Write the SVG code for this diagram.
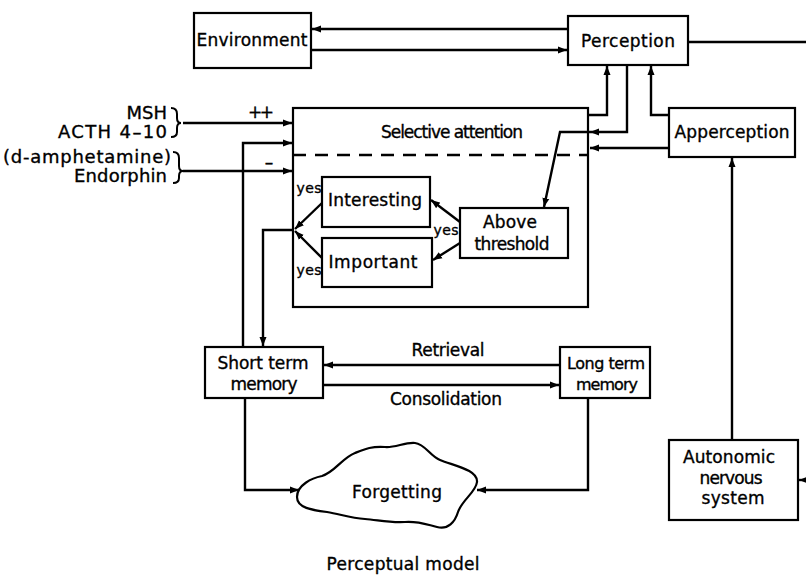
<svg xmlns="http://www.w3.org/2000/svg" width="806" height="586" viewBox="0 0 806 586">
<style>
.box{fill:#fff;stroke:#000;stroke-width:2.2}
.ln{fill:none;stroke:#000;stroke-width:2.4;stroke-linejoin:miter}
.ar{marker-end:url(#ah)}
text{font-family:"DejaVu Sans","Liberation Sans",sans-serif;font-size:17px;fill:#000;stroke:#000;stroke-width:0.35;text-anchor:middle}
.sm{font-size:14px}
.in{font-size:18px;text-anchor:end}
.s16{font-size:16px}
</style>
<defs>
<marker id="ah" markerUnits="userSpaceOnUse" markerWidth="10" markerHeight="8" refX="9" refY="4" orient="auto">
<path d="M0,0.5 L9,4 L0,7.5 z" fill="#000"/>
</marker>
</defs>
<rect width="806" height="586" fill="#fff"/>

<g id="connectors">
<path class="ln ar" d="M568,29 H312"/>
<path class="ln ar" d="M312,50 H567"/>
<path class="ln" d="M688,42 H806"/>
<path class="ln ar" d="M806,480 H799"/>
<path class="ln ar" d="M588,115 H607 V66"/>
<path class="ln ar" d="M627,65 V132 H590"/>
<path class="ln ar" d="M590,132 H560 L544,207"/>
<path class="ln ar" d="M669,115 H651 V66"/>
<path class="ln ar" d="M669,148 H590"/>
<path class="ln ar" d="M732,440 V158"/>
<path class="ln ar" d="M183,123 H292"/>
<path class="ln ar" d="M183,171 H292"/>
<path class="ln ar" d="M243,347 V143 H292"/>
<path class="ln ar" d="M294,230 H263 V346"/>
<path class="ln ar" d="M322,203 L295,229"/>
<path class="ln ar" d="M322,258 L295,231"/>
<path class="ln ar" d="M460,222 L431,200"/>
<path class="ln ar" d="M460,243 L433,260"/>
<path class="ln ar" d="M560,365 H324"/>
<path class="ln ar" d="M323,385 H559"/>
<path class="ln ar" d="M245,398 V490 H299"/>
<path class="ln ar" d="M588,398 V490 H477"/>
</g>

<g id="environment">
<rect class="box" x="194" y="13" width="117" height="55"/>
<text x="252" y="46" textLength="111">Environment</text>
</g>
<g id="perception">
<rect class="box" x="568" y="16" width="120" height="49"/>
<text x="628" y="47" textLength="94">Perception</text>
</g>
<g id="apperception">
<rect class="box" x="669" y="108" width="126" height="49"/>
<text x="732" y="138" textLength="115">Apperception</text>
</g>
<g id="selective-attention">
<rect x="293" y="108" width="295" height="199" fill="none" stroke="#000" stroke-width="2.2"/>
<path d="M293,155 H588" stroke="#000" stroke-width="2.4" stroke-dasharray="13,9" fill="none"/>
<text x="452" y="138" font-size="15.5" textLength="142">Selective attention</text>
</g>
<g id="interesting">
<rect class="box" x="322" y="177" width="108" height="50"/>
<text x="375" y="206" textLength="94">Interesting</text>
</g>
<g id="important">
<rect class="box" x="322" y="238" width="110" height="49"/>
<text x="373" y="268" textLength="89">Important</text>
</g>
<g id="above-threshold">
<rect class="box" x="460" y="208" width="108" height="50"/>
<text x="510" y="228" textLength="54">Above</text>
<text x="512" y="250" textLength="75">threshold</text>
</g>
<g id="yes-labels">
<text class="sm" x="309" y="193" textLength="25">yes</text>
<text class="sm" x="309" y="275" textLength="25">yes</text>
<text class="sm" x="446" y="235" textLength="25">yes</text>
</g>
<g id="short-term-memory">
<rect class="box" x="205" y="347" width="118" height="51"/>
<text x="263" y="369" textLength="91">Short term</text>
<text x="264" y="390" textLength="67">memory</text>
</g>
<g id="long-term-memory">
<rect class="box" x="560" y="347" width="90" height="51"/>
<text class="s16" x="606" y="369" textLength="78">Long term</text>
<text class="s16" x="607" y="390" textLength="62">memory</text>
</g>
<g id="flow-labels">
<text x="448" y="356" textLength="73">Retrieval</text>
<text x="446" y="405" textLength="112">Consolidation</text>
</g>
<g id="forgetting">
<path d="M297,497 C297,485 312,478 322,476 C335,472 342,458 355,453 C365,449 372,446 385,447 C395,448 405,442 415,443 C425,444 430,456 440,460 C455,466 478,470 477,482 C476,492 462,500 458,512 C455,522 448,530 437,527 C425,524 418,521 405,522 C390,523 378,520 365,519 C350,518 340,514 327,512 C312,510 297,508 297,497 Z" fill="#fff" stroke="#000" stroke-width="2.2"/>
<text x="397" y="498" textLength="90">Forgetting</text>
</g>
<g id="autonomic">
<rect class="box" x="669" y="440" width="129" height="80"/>
<text x="729" y="463" textLength="92">Autonomic</text>
<text x="731" y="484" textLength="63">nervous</text>
<text x="733" y="504" textLength="63">system</text>
</g>
<g id="inputs">
<text class="in" x="167" y="119">MSH</text>
<text class="in" x="167" y="138" textLength="109">ACTH 4–10</text>
<text class="in" x="171" y="163" textLength="168">(d-amphetamine)</text>
<text class="in" x="167" y="182" textLength="93">Endorphin</text>
<path d="M171,108 Q177,108 177,114 V118 Q177,123 181,123 Q177,123 177,128 V132 Q177,137 171,137" fill="none" stroke="#000" stroke-width="2"/>
<path d="M173,152 Q179,152 179,158 V166 Q179,171 183,171 Q179,171 179,176 V178 Q179,183 173,183" fill="none" stroke="#000" stroke-width="2"/>
<text x="261" y="118" font-size="13" textLength="26">++</text>
<text x="269" y="168" font-size="20">–</text>
</g>
<g id="caption">
<text x="403" y="570" textLength="153">Perceptual model</text>
</g>
</svg>
